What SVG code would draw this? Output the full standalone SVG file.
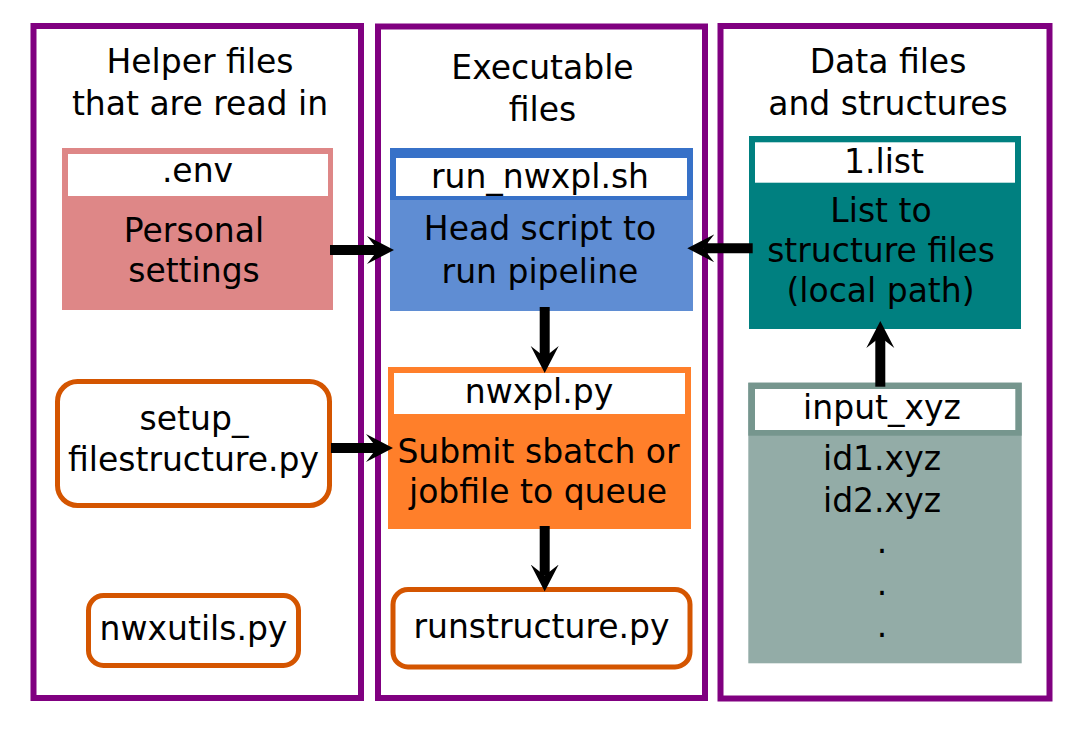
<svg xmlns="http://www.w3.org/2000/svg" width="1080" height="731" viewBox="0 0 1080 731">
<style>
text{font-family:"DejaVu Sans","Liberation Sans",sans-serif;font-size:33px;fill:#000;text-anchor:middle}
.panel{fill:none;stroke:#800080;stroke-width:6}
.rnd{fill:#fff;stroke:#d45500;stroke-width:5}
.hdr{fill:#fff}
.conn{stroke:#000;stroke-width:10;fill:none;marker-end:url(#ah)}
</style>
<defs>
<marker id="ah" markerUnits="userSpaceOnUse" markerWidth="30" markerHeight="30" refX="11" refY="14" orient="auto">
<path d="M0,0 L27,14 L0,28 L11,14 Z" fill="#000"/>
</marker>
</defs>
<rect width="1080" height="731" fill="#fff"/>
<g id="panel-helper">
<rect class="panel" x="33.5" y="26" width="327.5" height="672"/>
<text x="200" y="73">Helper files</text>
<text x="200" y="115">that are read in</text>
</g>
<g id="panel-exec">
<rect class="panel" x="378" y="26.5" width="327" height="671.5"/>
<text x="542.5" y="79">Executable</text>
<text x="542.5" y="121">files</text>
</g>
<g id="panel-data">
<rect class="panel" x="720.5" y="26" width="329" height="672.5"/>
<text x="888" y="73">Data files</text>
<text x="888" y="115">and structures</text>
</g>
<g id="node-env">
<rect x="62" y="148" width="271" height="162" fill="#de8787"/>
<rect class="hdr" x="68" y="154" width="260" height="42"/>
<text x="197.5" y="182">.env</text>
<text x="194" y="242">Personal</text>
<text x="194" y="282">settings</text>
</g>
<g id="node-setup">
<rect class="rnd" x="57.5" y="381.5" width="272" height="124" rx="20"/>
<text x="194" y="430">setup_</text>
<text x="193.5" y="471">filestructure.py</text>
</g>
<g id="node-nwxutils">
<rect class="rnd" x="88.5" y="595.5" width="210" height="70" rx="15"/>
<text x="193.5" y="640">nwxutils.py</text>
</g>
<g id="node-run">
<rect x="390" y="148" width="303" height="163" fill="#5f8dd3"/>
<rect x="390" y="148" width="303" height="52" fill="#3771c8"/>
<rect class="hdr" x="396" y="158" width="291" height="38"/>
<text x="540" y="188">run_nwxpl.sh</text>
<text x="540" y="240">Head script to</text>
<text x="540" y="282.5">run pipeline</text>
</g>
<g id="node-nwxpl">
<rect x="388" y="367" width="303" height="162" fill="#ff7f2a"/>
<rect class="hdr" x="394" y="373" width="291" height="41"/>
<text x="539" y="403">nwxpl.py</text>
<text x="538.5" y="463">Submit sbatch or</text>
<text x="538" y="503">jobfile to queue</text>
</g>
<g id="node-runstructure">
<rect class="rnd" x="393" y="589.5" width="297" height="77.5" rx="15"/>
<text x="541.5" y="638">runstructure.py</text>
</g>
<g id="node-list">
<rect x="749" y="136" width="272" height="193" fill="#008080"/>
<rect class="hdr" x="755" y="142.3" width="260" height="40.4"/>
<text x="884" y="172.5">1.list</text>
<text x="881" y="221.5">List to</text>
<text x="881" y="261.5">structure files</text>
<text x="880.5" y="302">(local path)</text>
</g>
<g id="node-input">
<rect x="748.3" y="382.7" width="273.4" height="280.6" fill="#93aca7"/>
<rect x="748.3" y="382.7" width="273.4" height="53" fill="#76968e"/>
<rect class="hdr" x="755" y="389" width="260.3" height="41"/>
<text x="882" y="419">input_xyz</text>
<text x="882" y="470">id1.xyz</text>
<text x="882" y="511.5">id2.xyz</text>
<text x="882" y="553">.</text>
<text x="882" y="595">.</text>
<text x="882" y="636.5">.</text>
</g>
<g id="connectors">
<line class="conn" x1="330" y1="250" x2="378" y2="250"/>
<line class="conn" x1="331" y1="448" x2="377" y2="448"/>
<line class="conn" x1="544.7" y1="307" x2="544.7" y2="357"/>
<line class="conn" x1="544.7" y1="526" x2="544.7" y2="575.5"/>
<line class="conn" x1="752.7" y1="248.3" x2="703.3" y2="248.3"/>
<line class="conn" x1="880.3" y1="386.7" x2="880.3" y2="337"/>
</g>
</svg>
